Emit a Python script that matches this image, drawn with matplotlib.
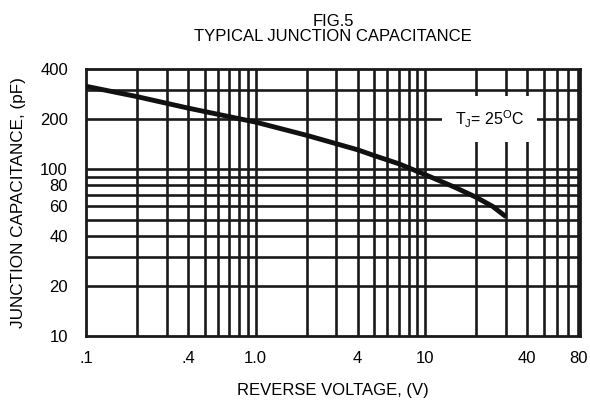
import numpy as np
import matplotlib
matplotlib.use("Agg")
import matplotlib.pyplot as plt

plt.rcParams['font.family'] = ['Liberation Sans', 'DejaVu Sans']

# curve
voltage = [0.1, 0.2, 0.4, 1.0, 2.0, 4.0, 5.0, 7.0, 10.0, 15.0, 20.0, 25.0, 30.0]
capacitance = [315, 273, 233, 192, 160, 131, 121, 108, 93, 78, 68, 60, 52]

# grid lines as printed
x_grid = [0.2, 0.3, 0.4, 0.5, 0.6, 0.7, 0.8, 0.9, 1, 2, 3, 4, 5, 6, 7, 8, 9, 10,
          20, 30, 40, 50, 60, 70, 80]
y_grid = [20, 30, 40, 50, 60, 70, 80, 90, 100, 200, 300]

x_ticks = [0.1, 0.4, 1.0, 4, 10, 40, 80]
x_labels = [".1", ".4", "1.0", "4", "10", "40", "80"]
y_ticks = [10, 20, 40, 60, 80, 100, 200, 400]
y_labels = ["10", "20", "40", "60", "80", "100", "200", "400"]

fig = plt.figure(figsize=(5.9, 4.01), dpi=100)
ax = fig.add_axes([0.1458, 0.162, 0.8372, 0.666])
ax.set_xscale('log')
ax.set_yscale('log')
ax.set_xlim(0.1, 82)
ax.set_ylim(10, 400)

for xv in x_grid:
    ax.axvline(xv, color='#1a1a1a', lw=1.9, zorder=1)
for yv in y_grid:
    ax.axhline(yv, color='#1a1a1a', lw=1.9, zorder=1)

ax.plot(voltage, capacitance, color='#111111', lw=3.5, solid_capstyle='butt',
        solid_joinstyle='round', zorder=3)

ax.text(24, 200, r'T$_{\mathregular{J}}$= 25$^{\mathregular{O}}$C', fontsize=11.5,
        ha='center', va='center', zorder=4,
        bbox=dict(facecolor='white', edgecolor='none', pad=9))

ax.set_xticks(x_ticks)
ax.set_xticklabels(x_labels)
ax.set_yticks(y_ticks)
ax.set_yticklabels(y_labels)
ax.minorticks_off()
ax.tick_params(length=0, labelsize=12, pad=11)
ax.tick_params(axis='y', pad=13)

for s in ax.spines.values():
    s.set_linewidth(2.0)
    s.set_color('#1a1a1a')

ax.set_xlabel("REVERSE VOLTAGE, (V)", fontsize=12, labelpad=12)
ax.set_ylabel("JUNCTION CAPACITANCE, (pF)", fontsize=12.3, labelpad=10)
ax.set_title("FIG.5\nTYPICAL JUNCTION CAPACITANCE", fontsize=12, pad=20, linespacing=1.0)

fig.savefig("out.png", dpi=100)
